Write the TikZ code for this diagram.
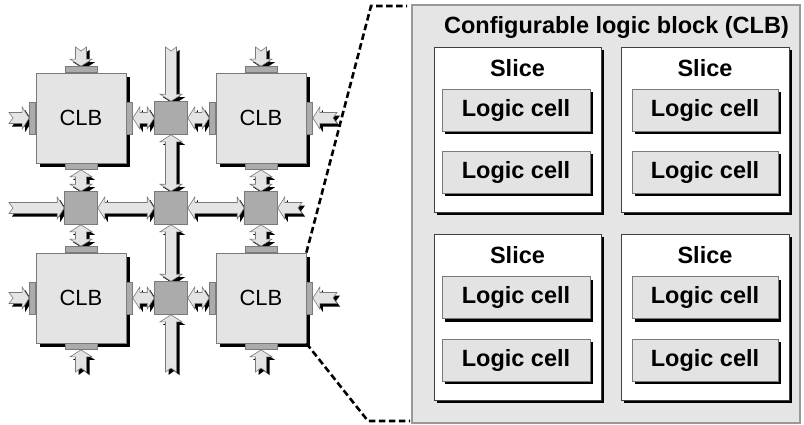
\documentclass[tikz,border=0pt]{standalone}
\usepackage{fontspec}
\setmainfont{Liberation Sans}
\usetikzlibrary{calc}
\definecolor{lightg}{HTML}{E4E4E4}
\definecolor{midg}{HTML}{ABABAB}
\definecolor{edgeg}{HTML}{7A7A7A}
\definecolor{panelg}{HTML}{E5E5E5}
\definecolor{cellg}{HTML}{E3E3E3}
\definecolor{shadowk}{HTML}{000000}

% fat arrow from #1 to #2; #3 = start end type, #4 = end type (h = head, n = notched tail)
% #5 = what to draw: s = shadow only, a = arrow only
\newcommand\fatarrow[5]{%
  \path let \p1=(#1), \p2=(#2) in \pgfextra{%
    \pgfmathsetmacro\faTmpA{atan2(\y2-\y1,\x2-\x1)}%
    \pgfmathsetmacro\faTmpL{veclen(\x2-\x1,\y2-\y1)}%
    \xdef\faAng{\faTmpA}\xdef\faLen{\faTmpL}%
    \xdef\faX{\x1}\xdef\faY{\y1}};%
  \if#3h\def\sA{7}\def\sH{11}\def\sT{0}\else\def\sA{0}\def\sH{5.5}\def\sT{4}\fi
  \if#4h\pgfmathsetmacro\eA{\faLen-7}\def\eH{11}\edef\eT{\faLen}\else\edef\eA{\faLen}\def\eH{5.5}\pgfmathsetmacro\eT{\faLen-4}\fi
  \if#5s
  \begin{scope}[shift={(3pt,-3pt)}]
  \begin{scope}[shift={(\faX,\faY)}, rotate=\faAng, x=1pt, y=1pt]
    \fill[shadowk] (\sA,-5.5) -- (\sA,-\sH) -- (\sT,0) -- (\sA,\sH) -- (\sA,5.5) -- (\eA,5.5) -- (\eA,\eH) -- (\eT,0) -- (\eA,-\eH) -- (\eA,-5.5) -- cycle;
  \end{scope}
  \end{scope}
  \else
  \begin{scope}[shift={(\faX,\faY)}, rotate=\faAng, x=1pt, y=1pt]
    \filldraw[fill=lightg, draw=edgeg, line width=0.6pt, line join=miter] (\sA,-5.5) -- (\sA,-\sH) -- (\sT,0) -- (\sA,\sH) -- (\sA,5.5) -- (\eA,5.5) -- (\eA,\eH) -- (\eT,0) -- (\eA,-\eH) -- (\eA,-5.5) -- cycle;
  \end{scope}
  \fi}

\newcommand\allarrows[1]{%
\fatarrow{t1}{c11n.north}{n}{h}{#1}
\fatarrow{t2}{s1.north}{n}{h}{#1}
\fatarrow{t3}{c12n.north}{n}{h}{#1}
\fatarrow{l1}{c11w.west}{n}{h}{#1}
\fatarrow{l2}{s2.west}{n}{h}{#1}
\fatarrow{l3}{c21w.west}{n}{h}{#1}
\fatarrow{c12e.east}{r1}{h}{n}{#1}
\fatarrow{s4.east}{r2}{h}{n}{#1}
\fatarrow{c22e.east}{r3}{h}{n}{#1}
\fatarrow{c21s.south}{b1}{h}{n}{#1}
\fatarrow{s5.south}{b2}{h}{n}{#1}
\fatarrow{c22s.south}{b3}{h}{n}{#1}
\fatarrow{c11e.east}{s1.west}{h}{h}{#1}
\fatarrow{s1.east}{c12w.west}{h}{h}{#1}
\fatarrow{s2.east}{s3.west}{h}{h}{#1}
\fatarrow{s3.east}{s4.west}{h}{h}{#1}
\fatarrow{c21e.east}{s5.west}{h}{h}{#1}
\fatarrow{s5.east}{c22w.west}{h}{h}{#1}
\fatarrow{c11s.south}{s2.north}{h}{h}{#1}
\fatarrow{s2.south}{c21n.north}{h}{h}{#1}
\fatarrow{s1.south}{s3.north}{h}{h}{#1}
\fatarrow{s3.south}{s5.north}{h}{h}{#1}
\fatarrow{c12s.south}{s4.north}{h}{h}{#1}
\fatarrow{s4.south}{c22n.north}{h}{h}{#1}}

\begin{document}
\begin{tikzpicture}[x=1pt,y=-1pt,
  dropbox/.style={fill=shadowk, draw=none, inner sep=0pt},
  ghost/.style={draw=none, fill=none},
  clb/.style={draw=edgeg, fill=lightg, line width=0.7pt, minimum width=90pt, minimum height=90pt, inner sep=0pt,
    font=\fontsize{22}{26}\selectfont},
  padh/.style={draw=edgeg, fill=midg, line width=0.5pt, minimum width=32pt, minimum height=6pt, inner sep=0pt},
  padv/.style={draw=edgeg, fill=midg, line width=0.5pt, minimum width=6pt, minimum height=32pt, inner sep=0pt},
  swbox/.style={draw=edgeg, fill=midg, line width=0.6pt, minimum width=33pt, minimum height=33pt, inner sep=0pt},
  panelbox/.style={draw=gray!80, fill=panelg, line width=1.4pt, minimum width=388pt, minimum height=418pt, inner sep=0pt},
  slicebox/.style={draw=black!75, fill=white, line width=0.7pt, inner sep=0pt},
  cellbox/.style={draw=edgeg, fill=cellg, line width=0.7pt, minimum height=42pt, inner sep=0pt,
    font=\fontsize{23.5}{28}\bfseries},
  bigtext/.style={font=\fontsize{23.5}{28}\bfseries, inner sep=0pt, anchor=base},
  dline/.style={line width=2.6pt, dash pattern=on 6.5pt off 3.5pt, black}]
\useasboundingbox (0,0) rectangle (804,424);

% free ends
\coordinate (t1) at (81,47);
\coordinate (t2) at (171,47);
\coordinate (t3) at (261,47);
\coordinate (l1) at (9,118);
\coordinate (l2) at (9,208);
\coordinate (l3) at (9,298);
\coordinate (r1) at (337,118);
\coordinate (r2) at (302,208);
\coordinate (r3) at (337,298);
\coordinate (b1) at (81,372);
\coordinate (b2) at (171,372);
\coordinate (b3) at (261,372);

% ---------- CLB array: named outlines first (invisible), so arrows can refer to them ----------
\path node[clb, ghost] (c11) at (81,118) {}
      node[clb, ghost] (c12) at (261,118) {}
      node[clb, ghost] (c21) at (81,298) {}
      node[clb, ghost] (c22) at (261,298) {};
\foreach \c in {c11,c12,c21,c22}{
  \path node[padh, ghost, anchor=south] (\c n) at (\c.north) {}
        node[padh, ghost, anchor=north] (\c s) at (\c.south) {}
        node[padv, ghost, anchor=west] (\c e) at (\c.east) {}
        node[padv, ghost, anchor=east] (\c w) at (\c.west) {};
}
\path node[swbox, ghost] (s1) at (171,118) {}
      node[swbox, ghost] (s2) at (81,208) {}
      node[swbox, ghost] (s3) at (171,208) {}
      node[swbox, ghost] (s4) at (261,208) {}
      node[swbox, ghost] (s5) at (171,298) {};

% arrows: all shadows, then all bodies
\allarrows{s}
\allarrows{a}

% visible blocks on top
\foreach \c in {c11,c12,c21,c22}{
  \node[dropbox, minimum width=90pt, minimum height=90pt] at ([shift={(4pt,-4pt)}]\c.center) {};
}
\node[clb] at (c11) {CLB};
\node[clb] at (c12) {CLB};
\node[clb] at (c21) {CLB};
\node[clb] at (c22) {CLB};
\foreach \c in {c11,c12,c21,c22}{
  \node[padh] at (\c n) {};
  \node[padh] at (\c s) {};
  \node[padv] at (\c e) {};
  \node[padv] at (\c w) {};
}
\foreach \s in {s1,s2,s3,s4,s5}{\node[swbox] at (\s) {};}

% ---------- CLB detail panel ----------
\node[panelbox] (panel) at (606,214) {};
\node[bigtext] (title) at (616.5,33) {Configurable logic block (CLB)};

\node[dropbox, minimum width=167pt, minimum height=165pt] at (520.5,132.5) {};
\node[dropbox, minimum width=168pt, minimum height=165pt] at (708,132.5) {};
\node[dropbox, minimum width=167pt, minimum height=166pt] at (520.5,320) {};
\node[dropbox, minimum width=168pt, minimum height=166pt] at (708,320) {};
\node[slicebox, minimum width=167pt, minimum height=165pt] (sl1) at (517.5,129.5) {};
\node[slicebox, minimum width=168pt, minimum height=165pt] (sl2) at (705,129.5) {};
\node[slicebox, minimum width=167pt, minimum height=166pt] (sl3) at (517.5,317) {};
\node[slicebox, minimum width=168pt, minimum height=166pt] (sl4) at (705,317) {};

\node[bigtext] (st1) at (517.5,76) {Slice};
\node[bigtext] (st2) at (705,76) {Slice};
\node[bigtext] (st3) at (517.5,263) {Slice};
\node[bigtext] (st4) at (705,263) {Slice};

\node[dropbox, minimum width=148pt, minimum height=42pt] at (519,113) {};
\node[dropbox, minimum width=148pt, minimum height=42pt] at (519,175) {};
\node[dropbox, minimum width=146pt, minimum height=42pt] at (708,113) {};
\node[dropbox, minimum width=146pt, minimum height=42pt] at (708,175) {};
\node[dropbox, minimum width=148pt, minimum height=42pt] at (519,300.5) {};
\node[dropbox, minimum width=148pt, minimum height=42pt] at (519,363) {};
\node[dropbox, minimum width=146pt, minimum height=42pt] at (708,300.5) {};
\node[dropbox, minimum width=146pt, minimum height=42pt] at (708,363) {};
\node[cellbox, minimum width=148pt] (lc1) at (516,110) {Logic cell};
\node[cellbox, minimum width=148pt] (lc2) at (516,172) {Logic cell};
\node[cellbox, minimum width=146pt] (lc3) at (705,110) {Logic cell};
\node[cellbox, minimum width=146pt] (lc4) at (705,172) {Logic cell};
\node[cellbox, minimum width=148pt] (lc5) at (516,297.5) {Logic cell};
\node[cellbox, minimum width=148pt] (lc6) at (516,360) {Logic cell};
\node[cellbox, minimum width=146pt] (lc7) at (705,297.5) {Logic cell};
\node[cellbox, minimum width=146pt] (lc8) at (705,360) {Logic cell};

% ---------- zoom lines ----------
\coordinate (dk1) at (371,6);
\coordinate (de1) at (407,6);
\coordinate (dk2) at (368,421);
\coordinate (de2) at (410,421);
\draw[dline] (c22.north east) -- (dk1) -- (de1);
\draw[dline] (c22.south east) -- (dk2) -- (de2);
\end{tikzpicture}
\end{document}
